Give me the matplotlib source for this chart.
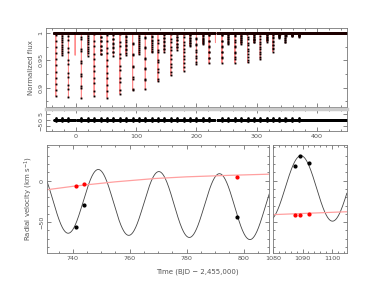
import numpy as np
import matplotlib
matplotlib.use("Agg")
import matplotlib.pyplot as plt
from matplotlib.ticker import MultipleLocator

# --- light curve: eclipse mid-times (BJD-2455000) and flux at eclipse bottom
primary_times = [-33.7, -12.7, 8.8, 30.0, 51.5, 72.8, 94.0, 115.0, 136.0, 157.5,
                 179.0, 200.0, 221.0, 242.5, 264.0, 285.0, 306.0, 327.0, 348.0, 370.0]
primary_min = [0.879, 0.879, 0.879, 0.879, 0.877, 0.882, 0.886, 0.896, 0.905, 0.918,
               0.928, 0.939, 0.944, 0.945, 0.944, 0.943, 0.950, 0.965, 0.982, 0.993]
secondary_times = [-23.0, -1.6, 19.3, 41.0, 62.0, 83.0, 104.5, 125.5, 146.5, 168.0,
                   189.0, 210.6, 231.6, 253.0, 274.0, 295.0, 317.0, 338.0, 359.0]
secondary_min = [0.957, 0.957, 0.957, 0.957, 0.957, 0.958, 0.959, 0.962, 0.964, 0.969,
                 0.975, 0.979, 0.981, 0.979, 0.979, 0.981, 0.984, 0.991, 0.994]
data_start, data_end = -36.0, 450.0
data_gaps = [(-3.0, 2.0), (229.0, 235.0)]
cadence = 0.0204
eclipse_halfwidth = 0.11
resid_in_eclipse = 1.2   # size of residual scatter during eclipses (x1e-3)

# --- radial velocities
rv_t_left = [741.0, 743.8, 797.7]
rv_black_left = [-55.3, -28.8, -43.3]
rv_red_left = [-6.7, -4.4, 4.1]
rv_t_right = [1087.4, 1089.1, 1092.3]
rv_black_right = [18.0, 29.7, 21.3]
rv_red_right = [-41.6, -41.6, -40.4]

# red (third star) trend
red_trend_t_left = [731, 741, 755, 769, 780, 795, 809]
red_trend_v_left = [-11.0, -6.5, -1.5, 2.5, 4.5, 6.3, 7.7]
red_trend_t_right = [1080, 1105]
red_trend_v_right = [-41.0, -37.5]

# black orbit model: period, time of max, semi-amplitude, systemic drift
orbit_period = 21.28
orbit_tmax = 749.0
orbit_K = 39.0
center_t_left, center_v_left = [731, 809], [-23.5, -32.8]
center_t_right, center_v_right = [1080, 1105], [-8.4, -10.2]


def eclipse_flux(t):
    f = np.ones_like(t)
    for tc, fm in list(zip(primary_times, primary_min)) + list(zip(secondary_times, secondary_min)):
        m = np.abs(t - tc) < eclipse_halfwidth
        f[m] = 1 - (1 - fm) * (1 - np.abs(t[m] - tc) / eclipse_halfwidth)
    return f


def orbit_curve(t, ct, cv):
    return np.interp(t, ct, cv) + orbit_K * np.cos(2 * np.pi * (t - orbit_tmax) / orbit_period)


grey = "#555555"
plt.rcParams["font.family"] = "DejaVu Sans"
plt.rcParams["font.size"] = 4.6


def style(ax):
    ax.tick_params(which="both", direction="in", top=True, right=True,
                   colors=grey, labelcolor=grey, width=0.5, pad=2)
    ax.tick_params(which="major", length=3)
    ax.tick_params(which="minor", length=1.6)
    for s in ax.spines.values():
        s.set_color("#777777")
        s.set_linewidth(0.6)
    for lab in ax.get_yticklabels():
        lab.set_rotation(90)
        lab.set_va("center")


fig = plt.figure(figsize=(3.77, 2.92), dpi=100)

# light curve
model_t = np.arange(data_start, data_end, cadence)
t = model_t.copy()
for g0, g1 in data_gaps:
    t = t[(t < g0) | (t > g1)]
flux = eclipse_flux(t)

ax1 = fig.add_axes([0.122, 0.634, 0.798, 0.270])
ax1.plot(model_t, eclipse_flux(model_t), color="#ff8c8c", lw=0.7, zorder=1)
ax1.plot(t, flux, ls="none", marker="s", ms=1.1, mfc="black", mec="#300000", mew=0.2, zorder=2)
ax1.set_xlim(-50, 450)
ax1.set_ylim(0.865, 1.009)
ax1.xaxis.set_major_locator(MultipleLocator(100))
ax1.xaxis.set_minor_locator(MultipleLocator(20))
ax1.yaxis.set_minor_locator(MultipleLocator(0.025))
ax1.set_yticks([0.9, 0.95, 1.0])
ax1.set_yticklabels(["0.9", "0.95", "1"])
ax1.set_xticklabels([])
ax1.set_ylabel("Normalized flux", color=grey, fontsize=5, labelpad=3)
style(ax1)

# residuals
in_ecl = eclipse_flux(t) < 1
resid = np.zeros_like(t)
sign = np.where(np.arange(len(t)) % 2 == 0, 1.0, -1.0)
resid[in_ecl] = resid_in_eclipse * sign[in_ecl]
ax2 = fig.add_axes([0.122, 0.551, 0.798, 0.077])
ax2.plot(t, resid, ls="none", marker="s", ms=1.1, color="black", mew=0)
ax2.set_xlim(-50, 450)
ax2.set_ylim(-9, 9)
ax2.set_yticks([-5, 0, 5])
ax2.set_yticklabels(["\u22125", "0", "5"])
ax2.xaxis.set_major_locator(MultipleLocator(100))
ax2.xaxis.set_minor_locator(MultipleLocator(20))
style(ax2)
ax2.spines["top"].set_color("#cccccc")
ax2.spines["top"].set_linewidth(2.5)

# radial velocity, left window
ax3 = fig.add_axes([0.125, 0.134, 0.589, 0.370])
tl = np.linspace(731, 809, 600)
ax3.plot(tl, orbit_curve(tl, center_t_left, center_v_left), color="#444444", lw=0.6)
ax3.plot(red_trend_t_left, red_trend_v_left, color="#ffa0a0", lw=0.9)
ax3.plot(rv_t_left, rv_black_left, ls="none", marker="o", ms=2.0, color="black")
ax3.plot(rv_t_left, rv_red_left, ls="none", marker="o", ms=2.0, color="red")
ax3.set_xlim(731, 809)
ax3.set_ylim(-87, 43)
ax3.xaxis.set_major_locator(MultipleLocator(20))
ax3.xaxis.set_minor_locator(MultipleLocator(5))
ax3.yaxis.set_minor_locator(MultipleLocator(10))
ax3.set_yticks([-50, 0])
ax3.set_yticklabels(["\u221250", "0"])
ax3.set_ylabel("Radial velocity (km s$^{-1}$)", color=grey, fontsize=5, labelpad=3)
style(ax3)

# radial velocity, right window
ax4 = fig.add_axes([0.724, 0.134, 0.196, 0.370])
tr = np.linspace(1080, 1105, 300)
ax4.plot(tr, orbit_curve(tr, center_t_right, center_v_right), color="#444444", lw=0.6)
ax4.plot(red_trend_t_right, red_trend_v_right, color="#ffa0a0", lw=0.9)
ax4.plot(rv_t_right, rv_black_right, ls="none", marker="o", ms=2.0, color="black")
ax4.plot(rv_t_right, rv_red_right, ls="none", marker="o", ms=2.0, color="red")
ax4.set_xlim(1080, 1105)
ax4.set_ylim(-87, 43)
ax4.xaxis.set_major_locator(MultipleLocator(10))
ax4.xaxis.set_minor_locator(MultipleLocator(2))
ax4.yaxis.set_major_locator(MultipleLocator(50))
ax4.yaxis.set_minor_locator(MultipleLocator(10))
ax4.set_yticklabels([])
style(ax4)

fig.text(0.523, 0.068, "Time (BJD \u2212 2,455,000)", color=grey, fontsize=5, ha="center", va="center")

fig.savefig("out.png", dpi=100)
